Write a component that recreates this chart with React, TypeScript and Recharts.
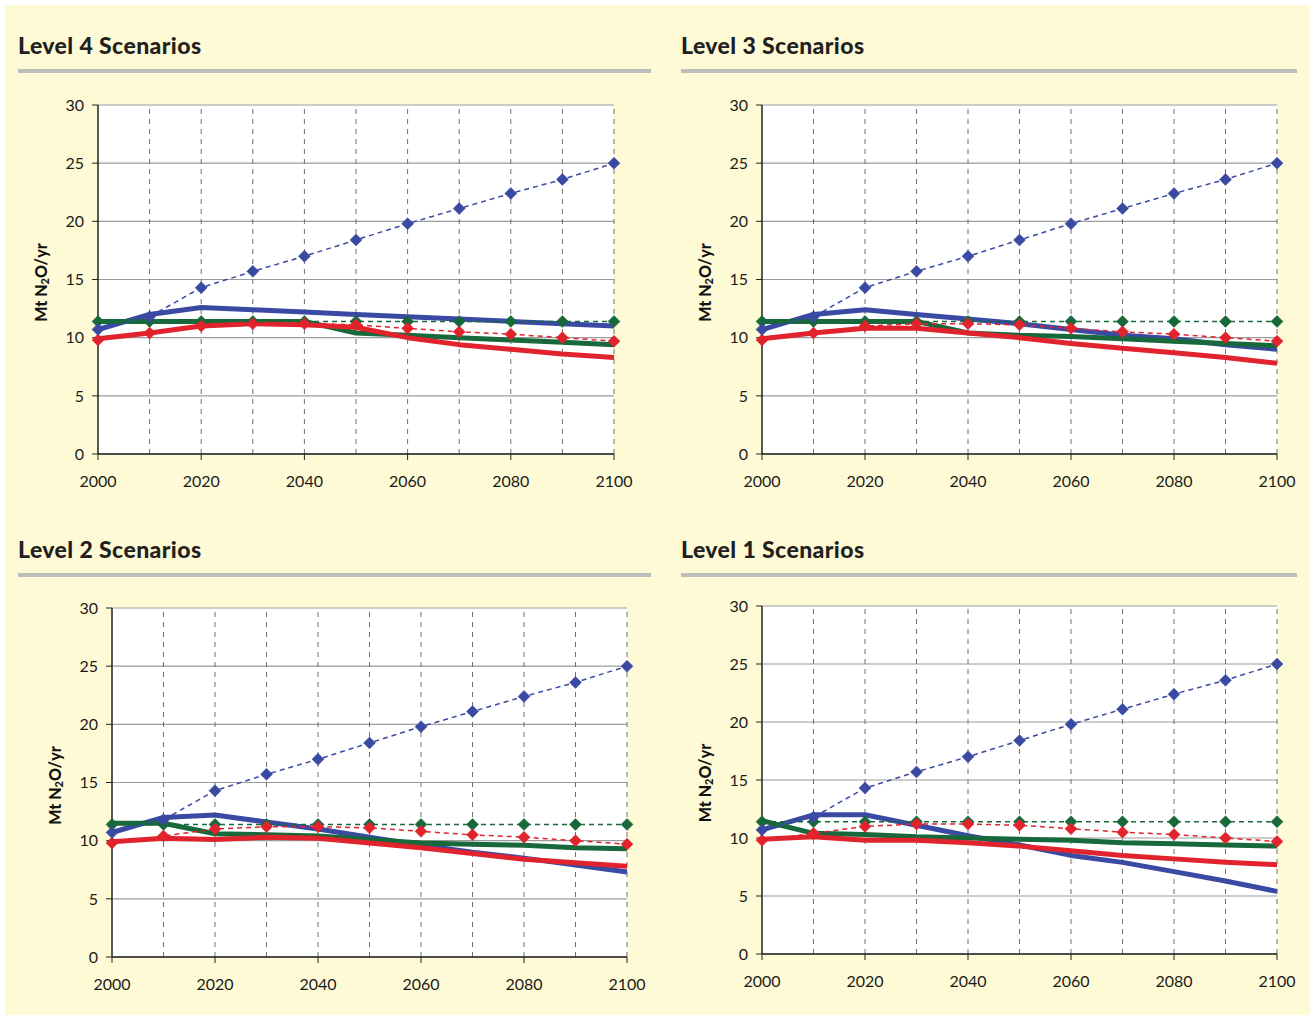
import React from "react"
import { LineChart, Line, XAxis, YAxis, CartesianGrid, ReferenceLine } from "recharts"

// N2O emission scenarios, four mitigation levels, Mt N2O per year

const years = [2000, 2010, 2020, 2030, 2040, 2050, 2060, 2070, 2080, 2090, 2100]
const xTicks = [2000, 2020, 2040, 2060, 2080, 2100]
const yTicks = [0, 5, 10, 15, 20, 25, 30]

// reference (dashed, diamond) series shared by every panel
const refBlue = [10.7, 11.8, 14.3, 15.7, 17.0, 18.4, 19.8, 21.1, 22.4, 23.6, 25.0]
const refGreen = [11.4, 11.4, 11.4, 11.4, 11.4, 11.4, 11.4, 11.4, 11.4, 11.4, 11.4]
const refRed = [9.8, 10.4, 11.0, 11.2, 11.2, 11.1, 10.8, 10.5, 10.3, 10.0, 9.7]

// mitigation (solid) series per level
const l4Blue = [10.7, 12.0, 12.6, 12.4, 12.2, 12.0, 11.8, 11.6, 11.4, 11.2, 11.0]
const l4Green = [11.4, 11.4, 11.4, 11.4, 11.4, 10.4, 10.2, 10.0, 9.8, 9.6, 9.4]
const l4Red = [9.9, 10.4, 11.0, 11.2, 11.1, 10.9, 10.0, 9.4, 9.0, 8.6, 8.3]

const l3Blue = [10.7, 12.0, 12.4, 12.0, 11.6, 11.2, 10.7, 10.2, 9.9, 9.4, 9.0]
const l3Green = [11.4, 11.4, 11.4, 11.4, 10.4, 10.2, 10.1, 9.9, 9.7, 9.5, 9.3]
const l3Red = [9.9, 10.4, 10.8, 10.8, 10.4, 10.0, 9.5, 9.1, 8.7, 8.3, 7.8]

const l2Blue = [10.7, 12.0, 12.2, 11.6, 11.0, 10.3, 9.6, 9.0, 8.5, 7.9, 7.3]
const l2Green = [11.5, 11.5, 10.6, 10.5, 10.4, 10.1, 9.8, 9.7, 9.6, 9.4, 9.3]
const l2Red = [9.9, 10.2, 10.1, 10.3, 10.2, 9.8, 9.4, 8.9, 8.4, 8.1, 7.8]

const l1Blue = [10.7, 12.0, 12.0, 11.1, 10.2, 9.4, 8.5, 7.9, 7.1, 6.3, 5.4]
const l1Green = [11.5, 10.4, 10.3, 10.1, 10.0, 9.9, 9.8, 9.6, 9.5, 9.4, 9.3]
const l1Red = [9.9, 10.1, 9.8, 9.8, 9.6, 9.3, 8.9, 8.5, 8.2, 7.9, 7.7]

const BLUE = "#3a4aa3"
const GREEN = "#17683a"
const RED = "#e0232d"
const BG = "#fffad6"
const FONT = "Lato, 'Open Sans', sans-serif"

function buildRows(blue: number[], green: number[], red: number[]) {
  return years.map((year, i) => ({
    year,
    bs: blue[i],
    gs: green[i],
    rs: red[i],
    bd: refBlue[i],
    gd: refGreen[i],
    rd: refRed[i],
  }))
}

function diamond(color: string) {
  return (props: any) => {
    const { cx, cy, index } = props
    if (cx == null || cy == null) return <g key={index} />
    const r = 6
    return (
      <polygon
        key={index}
        points={`${cx},${cy - r} ${cx + r},${cy} ${cx},${cy + r} ${cx - r},${cy}`}
        fill={color}
        stroke={color}
        strokeWidth={0.5}
      />
    )
  }
}

const yLabel = (props: any) => {
  const vb = props.viewBox || {}
  const cx = vb.x + vb.width - 58
  const cy = vb.y + vb.height / 2 + 3
  return (
    <text
      x={cx}
      y={cy}
      transform={`rotate(-90, ${cx}, ${cy})`}
      textAnchor="middle"
      dominantBaseline="central"
      fontFamily={FONT}
      fontWeight={900}
      fontSize={16}
      fill="#111"
    >
      Mt N<tspan dy={4} fontSize={11}>2</tspan>
      <tspan dy={-4}>O/yr</tspan>
    </text>
  )
}

interface PanelProps {
  title: string
  titleLeft: number
  titleTop: number
  ruleWidth: number
  plotLeft: number
  plotTop: number
  plotW: number
  plotH: number
  blue: number[]
  green: number[]
  red: number[]
}

function Panel(p: PanelProps) {
  const data = buildRows(p.blue, p.green, p.red)
  const mTop = 25
  const mRight = 40
  const xAxisH = 38
  const mBottom = 12
  const axisW = 100
  const tickStyle = { fontSize: 16, fill: "#1a1a1a", fontFamily: FONT }
  return (
    <>
      <div
        style={{
          position: "absolute",
          left: p.titleLeft,
          top: p.titleTop,
          fontFamily: FONT,
          fontWeight: 900,
          fontSize: 23,
          letterSpacing: 0.4,
          color: "#231f20",
          lineHeight: "24px",
          whiteSpace: "nowrap",
        }}
      >
        {p.title}
      </div>
      <div
        style={{
          position: "absolute",
          left: p.titleLeft,
          top: p.titleTop + 36,
          width: p.ruleWidth,
          height: 4,
          background: "#bdbdbb",
        }}
      />
      <div
        style={{
          position: "absolute",
          left: p.plotLeft - axisW,
          top: p.plotTop - mTop,
        }}
      >
        <LineChart
          width={p.plotW + axisW + mRight}
          height={p.plotH + mTop + mBottom + xAxisH}
          data={data}
          margin={{ top: mTop, right: mRight, bottom: mBottom, left: 0 }}
        >
          <CartesianGrid
            vertical={false}
            stroke="#9c9c9c"
            strokeWidth={1.2}
            fill="#ffffff"
          />
          {years.slice(1).map((yr) => (
            <ReferenceLine
              key={yr}
              x={yr}
              stroke="#6f6f6f"
              strokeWidth={1}
              strokeDasharray="5 5"
            />
          ))}
          <XAxis
            dataKey="year"
            type="number"
            domain={[2000, 2100]}
            ticks={xTicks}
            interval={0}
            height={xAxisH}
            tick={tickStyle}
            tickSize={6}
            tickMargin={16}
            stroke="#222"
            axisLine={{ stroke: "#222", strokeWidth: 1.5 }}
          />
          <YAxis
            domain={[0, 30]}
            ticks={yTicks}
            interval={0}
            width={axisW}
            tick={tickStyle}
            tickSize={6}
            tickMargin={8}
            stroke="#222"
            axisLine={{ stroke: "#222", strokeWidth: 1.5 }}
            label={yLabel}
          />
          <Line dataKey="bs" stroke={BLUE} strokeWidth={5} dot={false} strokeLinejoin="round" isAnimationActive={false} />
          <Line dataKey="gs" stroke={GREEN} strokeWidth={5} dot={false} strokeLinejoin="round" isAnimationActive={false} />
          <Line dataKey="rs" stroke={RED} strokeWidth={5} dot={false} strokeLinejoin="round" isAnimationActive={false} />
          <Line dataKey="gd" stroke={GREEN} strokeWidth={1.5} strokeDasharray="5 4" dot={diamond(GREEN)} isAnimationActive={false} />
          <Line dataKey="rd" stroke={RED} strokeWidth={1.5} strokeDasharray="5 4" dot={diamond(RED)} isAnimationActive={false} />
          <Line dataKey="bd" stroke={BLUE} strokeWidth={1.5} strokeDasharray="5 4" dot={diamond(BLUE)} isAnimationActive={false} />
        </LineChart>
      </div>
    </>
  )
}

export default function App() {
  return (
    <div
      style={{
        position: "absolute",
        left: 0,
        top: 0,
        width: 1314,
        height: 1019,
        background: "#ffffff",
      }}
    >
      <div
        style={{
          position: "absolute",
          left: 5,
          top: 5,
          width: 1305,
          height: 1010,
          background: BG,
        }}
      />
      <Panel
        title="Level 4 Scenarios"
        titleLeft={18}
        titleTop={33}
        ruleWidth={633}
        plotLeft={98}
        plotTop={105}
        plotW={516}
        plotH={349}
        blue={l4Blue}
        green={l4Green}
        red={l4Red}
      />
      <Panel
        title="Level 3 Scenarios"
        titleLeft={681}
        titleTop={33}
        ruleWidth={616}
        plotLeft={762}
        plotTop={105}
        plotW={515}
        plotH={349}
        blue={l3Blue}
        green={l3Green}
        red={l3Red}
      />
      <Panel
        title="Level 2 Scenarios"
        titleLeft={18}
        titleTop={537}
        ruleWidth={633}
        plotLeft={112}
        plotTop={608}
        plotW={515}
        plotH={349}
        blue={l2Blue}
        green={l2Green}
        red={l2Red}
      />
      <Panel
        title="Level 1 Scenarios"
        titleLeft={681}
        titleTop={537}
        ruleWidth={616}
        plotLeft={762}
        plotTop={606}
        plotW={515}
        plotH={348}
        blue={l1Blue}
        green={l1Green}
        red={l1Red}
      />
    </div>
  )
}
